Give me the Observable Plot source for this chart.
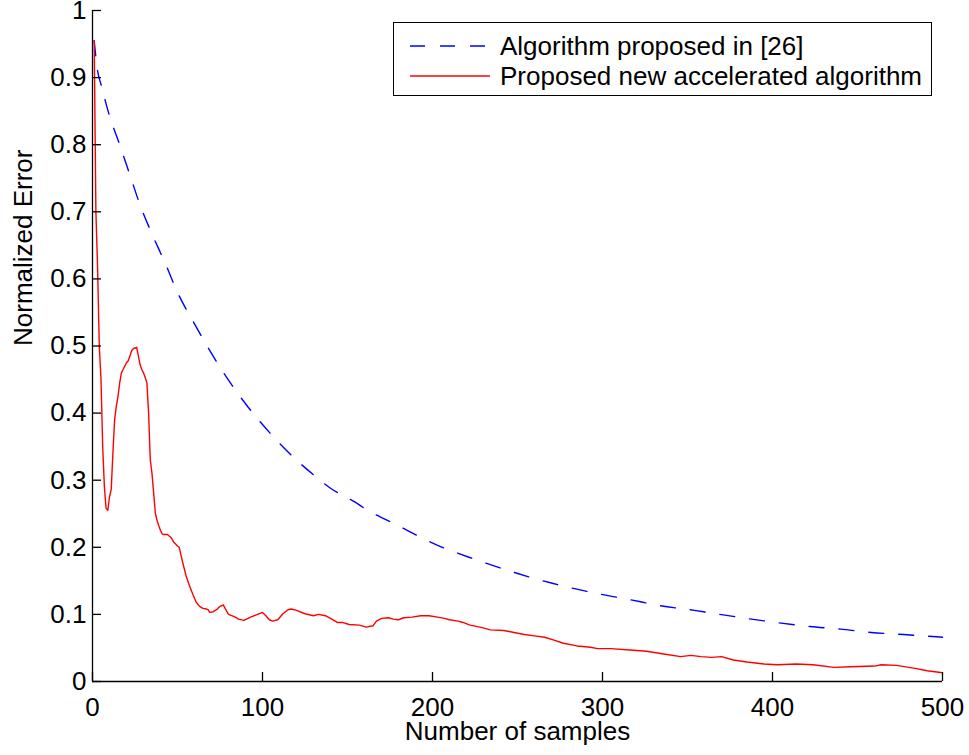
<!DOCTYPE html>
<html>
<head>
<meta charset="utf-8">
<script src="https://cdn.jsdelivr.net/npm/d3@7"></script>
<script src="https://cdn.jsdelivr.net/npm/@observablehq/plot@0.6"></script>
<style>
  html, body { margin: 0; padding: 0; background: #fff; }
  #wrap { position: relative; width: 969px; height: 755px; font-family: "Liberation Sans", Arial, Helvetica, sans-serif; }
  #legend { position: absolute; left: 393px; top: 22px; width: 539px; height: 74px; border: 1.3px solid #000; background: #fff; box-sizing: border-box; }
  .row { position: absolute; left: 0; height: 30px; width: 100%; }
  .row svg { position: absolute; left: 16px; top: 0; }
  .row span { position: absolute; left: 106px; top: 0; font-size: 26px; line-height: 30px; color: #000; white-space: nowrap; }
</style>
</head>
<body>
<div id="wrap"></div>
<script>
// Blue dashed series: "Algorithm proposed in [26]"
const blueN = [1,3,5,10,16,22,28,35,43,50,60,70,80,90,100,110,120,130,140,154,160,180,203,225,258,271,299,316,334,354,369,399,422,440,458,477,500];
const blueV = [0.955,0.91,0.89,0.843,0.8,0.755,0.71,0.667,0.622,0.58,0.533,0.489,0.449,0.414,0.383,0.355,0.33,0.308,0.288,0.268,0.258,0.232,0.203,0.182,0.155,0.146,0.13,0.122,0.113,0.106,0.1,0.089,0.082,0.078,0.073,0.07,0.066];

// Red solid series: "Proposed new accelerated algorithm"
const redN = [1,2,3,4,5,6,7,8,9,10,11,12,13,14,15,16,17,18,19,20,21,22,23,24,25,26,27,28,29,30,31,32,33,34,35,36,37,38,39,40,41,42,44,46,48,50,51,53,55,57,59,61,63,65,67,68,69,71,73,75,77,78,80,83,86,89,93,96,100,102,104,106,109,112,115,117,120,125,130,133,137,140,144,147,151,157,161,165,167,170,174,177,180,183,188,193,198,203,207,210,215,218,222,228,234,242,248,254,260,266,271,277,285,293,297,305,316,326,336,346,352,358,364,370,377,385,395,403,414,424,436,446,460,464,473,483,491,500];
const redV = [0.955,0.70,0.615,0.50,0.45,0.35,0.29,0.258,0.255,0.275,0.286,0.34,0.39,0.41,0.425,0.445,0.46,0.465,0.47,0.475,0.478,0.485,0.493,0.496,0.497,0.498,0.485,0.472,0.465,0.46,0.453,0.445,0.40,0.33,0.31,0.28,0.25,0.24,0.232,0.225,0.22,0.219,0.219,0.215,0.207,0.202,0.2,0.178,0.158,0.143,0.13,0.118,0.112,0.109,0.108,0.107,0.103,0.104,0.107,0.112,0.114,0.109,0.1,0.097,0.093,0.091,0.096,0.099,0.103,0.098,0.092,0.09,0.092,0.101,0.107,0.108,0.106,0.101,0.098,0.1,0.098,0.094,0.088,0.088,0.085,0.084,0.081,0.083,0.09,0.094,0.095,0.093,0.092,0.095,0.096,0.098,0.098,0.096,0.094,0.092,0.09,0.088,0.084,0.081,0.077,0.076,0.073,0.07,0.068,0.066,0.062,0.057,0.053,0.051,0.049,0.049,0.047,0.045,0.041,0.037,0.039,0.037,0.036,0.037,0.032,0.029,0.026,0.025,0.026,0.025,0.021,0.022,0.023,0.025,0.024,0.02,0.016,0.013];

const xTicks = [0,100,200,300,400,500];
const yTicks = [0,0.1,0.2,0.3,0.4,0.5,0.6,0.7,0.8,0.9,1];
const xLabel = "Number of samples";
const yLabel = "Normalized Error";
const seriesNames = ["Algorithm proposed in [26]", "Proposed new accelerated algorithm"];
const seriesColors = ["#0000ff", "#ff0000"];
const seriesDash = ["15,15", null];

const blue = blueN.map((n, i) => ({n, v: blueV[i]}));
const red = redN.map((n, i) => ({n, v: redV[i]}));

const chart = Plot.plot({
  width: 969,
  height: 755,
  marginLeft: 92,
  marginRight: 27,
  marginTop: 10,
  marginBottom: 74,
  style: {fontFamily: "'Liberation Sans', Arial, Helvetica, sans-serif", fontSize: "26px", background: "#fff", color: "#000", overflow: "visible"},
  x: {domain: [0, 500]},
  y: {domain: [0, 1]},
  marks: [
    Plot.line(blue, {x: "n", y: "v", stroke: seriesColors[0], strokeWidth: 1.4, strokeDasharray: seriesDash[0], curve: "monotone-x"}),
    Plot.line(red, {x: "n", y: "v", stroke: seriesColors[1], strokeWidth: 1.4, curve: "linear"}),
    Plot.ruleX([0], {stroke: "#000", strokeWidth: 1.3}),
    Plot.ruleY([0], {stroke: "#000", strokeWidth: 1.3}),
    Plot.axisX(xTicks, {tickSize: -9, tickPadding: 25, label: null, tickFormat: d => String(d), stroke: "#000", strokeWidth: 1.3, fill: "#000", fontSize: 26}),
    Plot.axisY(yTicks, {tickSize: -9, tickPadding: 15, label: null, tickFormat: d => String(d), stroke: "#000", strokeWidth: 1.3, fill: "#000", fontSize: 26}),
    Plot.text([xLabel], {text: d => d, frameAnchor: "bottom", dy: 58, fontSize: 26, fill: "#000"}),
    Plot.text([yLabel], {text: d => d, frameAnchor: "left", dx: -69, rotate: -90, fontSize: 26, fill: "#000"})
  ]
});

const wrap = document.getElementById("wrap");
wrap.appendChild(chart);

const legend = document.createElement("div");
legend.id = "legend";
const rowTops = [8, 38];
seriesNames.forEach((name, i) => {
  const row = document.createElement("div");
  row.className = "row";
  row.style.top = rowTops[i] + "px";
  const dash = seriesDash[i] ? `stroke-dasharray="${seriesDash[i]}"` : "";
  row.innerHTML = `<svg width="80" height="30"><line x1="0" y1="15" x2="80" y2="15" stroke="${seriesColors[i]}" stroke-width="1.4" ${dash}/></svg><span>${name}</span>`;
  legend.appendChild(row);
});
wrap.appendChild(legend);
</script>
</body>
</html>
